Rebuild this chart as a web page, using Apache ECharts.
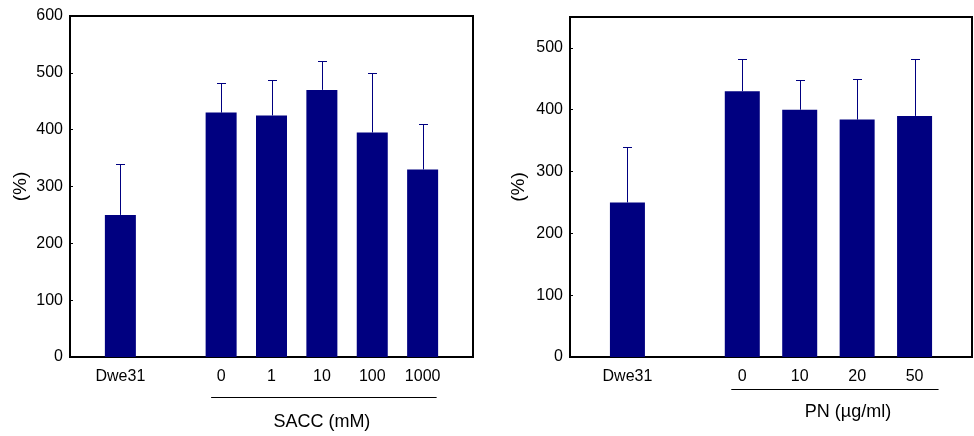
<!DOCTYPE html>
<html>
<head>
<meta charset="utf-8">
<script src="https://cdn.jsdelivr.net/npm/echarts@6/dist/echarts.min.js"></script>
<style>
  html, body { margin: 0; padding: 0; background: #fff; }
  #chart { width: 974px; height: 436px; }
</style>
</head>
<body>
<div id="chart"></div>
<script>
// Left panel: control line and SACC concentrations (mM)
const saccCategories = ['Dwe31', '0', '1', '10', '100', '1000'];
const saccMeans = [250, 430, 425, 470, 395, 330];
const saccUpper = [340, 482, 488, 520, 500, 410];
const saccTitle = 'SACC (mM)';

// Right panel: control line and PN concentrations (µg/ml)
const pnCategories = ['Dwe31', '0', '10', '20', '50'];
const pnMeans = [250, 430, 400, 384, 390];
const pnUpper = [340, 482, 448, 449, 482];
const pnTitle = 'PN (\u00b5g/ml)';

// y-axis ranges
const saccAxis = { min: 0, max: 600, interval: 100 };
const pnAxis = { min: 0, max: 550, interval: 100 };
const yName = '(%)';

const FONT = '"Liberation Sans", Arial, sans-serif';
const NAVY = '#000080';

// Axis slots: blank, control, blank gap, treatments..., blank
function slots(cats) {
  return ['', cats[0], ' '].concat(cats.slice(1), ['  ']);
}
function barData(vals) {
  return ['-', vals[0], '-'].concat(vals.slice(1), ['-']);
}
function errData(means, upper) {
  return means.map((m, i) => [i === 0 ? 1 : i + 2, m, upper[i]]);
}

function renderErr(params, api) {
  const x = api.value(0);
  const lo = api.coord([x, api.value(1)]);
  const hi = api.coord([x, api.value(2)]);
  const cx = Math.round(lo[0]) + 0.5;
  const ty = Math.round(hi[1]) + 0.5;
  const cap = 4.5;
  const st = { stroke: NAVY, lineWidth: 1 };
  return {
    type: 'group',
    children: [
      { type: 'line', shape: { x1: cx, y1: lo[1], x2: cx, y2: ty }, style: st },
      { type: 'line', shape: { x1: cx - cap, y1: ty, x2: cx + cap, y2: ty }, style: st }
    ]
  };
}

function xAxisFor(cats, gridIndex) {
  return {
    type: 'category',
    gridIndex: gridIndex,
    data: slots(cats),
    boundaryGap: false,
    axisLine: { show: false },
    axisTick: { show: false },
    axisLabel: { interval: 0, color: '#000', fontSize: 16, fontFamily: FONT, margin: 12 },
    splitLine: { show: false }
  };
}
function yAxisFor(range, gridIndex, nameGap) {
  return {
    type: 'value',
    gridIndex: gridIndex,
    min: range.min, max: range.max, interval: range.interval,
    name: yName,
    nameLocation: 'middle',
    nameGap: nameGap,
    nameTextStyle: { color: '#000', fontSize: 19, fontFamily: FONT },
    axisLine: { show: false },
    axisTick: { show: true, inside: true, length: 3, lineStyle: { color: '#000', width: 1 } },
    axisLabel: {
      color: '#000', fontSize: 16, fontFamily: FONT, margin: 7,
      formatter: v => (v % range.interval === 0 ? String(v) : '')
    },
    splitLine: { show: false }
  };
}

const chart = echarts.init(document.getElementById('chart'), null, { renderer: 'canvas' });

const gridBase = { show: true, borderColor: '#000', borderWidth: 2, backgroundColor: 'transparent', outerBoundsMode: 'none', containLabel: false };

chart.setOption({
  animation: false,
  backgroundColor: '#fff',
  grid: [
    Object.assign({ left: 70, top: 16, width: 403, height: 341 }, gridBase),
    Object.assign({ left: 570, top: 17, width: 402, height: 340 }, gridBase)
  ],
  xAxis: [xAxisFor(saccCategories, 0), xAxisFor(pnCategories, 1)],
  yAxis: [yAxisFor(saccAxis, 0, 40), yAxisFor(pnAxis, 1, 42)],
  series: [
    {
      type: 'bar', xAxisIndex: 0, yAxisIndex: 0,
      data: barData(saccMeans), barWidth: 31,
      itemStyle: { color: NAVY }
    },
    {
      type: 'custom', xAxisIndex: 0, yAxisIndex: 0, z: 5,
      data: errData(saccMeans, saccUpper), renderItem: renderErr
    },
    {
      type: 'bar', xAxisIndex: 1, yAxisIndex: 1,
      data: barData(pnMeans), barWidth: 35,
      itemStyle: { color: NAVY }
    },
    {
      type: 'custom', xAxisIndex: 1, yAxisIndex: 1, z: 5,
      data: errData(pnMeans, pnUpper), renderItem: renderErr
    }
  ]
});

// Group brackets under the treatment labels, placed from the axis positions
function px(gridIndex, slot) {
  return chart.convertToPixel({ gridIndex: gridIndex }, [slot, 0])[0];
}
const lFirst = px(0, 3), lLast = px(0, 2 + saccCategories.length - 1);
const rFirst = px(1, 3), rLast = px(1, 2 + pnCategories.length - 1);
const titleStyle = { fill: '#000', fontSize: 18, fontFamily: FONT, textAlign: 'center', textVerticalAlign: 'middle' };

chart.setOption({
  graphic: [
    { type: 'line', shape: { x1: lFirst - 10, y1: 397.5, x2: lLast + 14, y2: 397.5 }, style: { stroke: '#000', lineWidth: 1 } },
    { type: 'text', x: (lFirst + lLast) / 2, y: 422, style: Object.assign({ text: saccTitle }, titleStyle) },
    { type: 'line', shape: { x1: rFirst - 11, y1: 389.5, x2: rLast + 24, y2: 389.5 }, style: { stroke: '#000', lineWidth: 1 } },
    { type: 'text', x: 848, y: 412, style: Object.assign({ text: pnTitle }, titleStyle) }
  ]
});
</script>
</body>
</html>
